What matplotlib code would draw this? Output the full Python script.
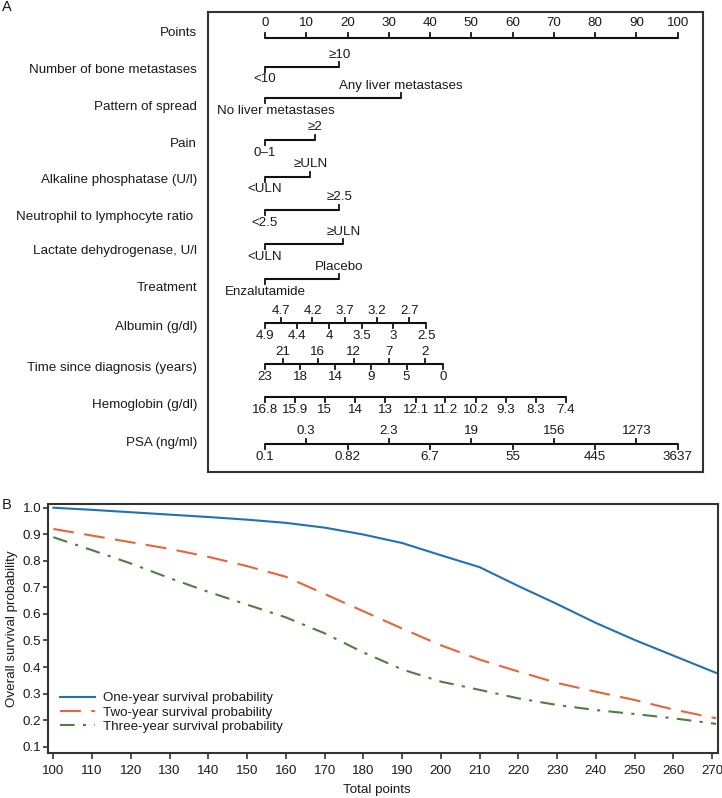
import matplotlib
matplotlib.use("Agg")
import matplotlib.pyplot as plt
from matplotlib.ticker import FormatStrFormatter

plt.rcParams['font.family'] = ['Liberation Sans', 'DejaVu Sans']

# ---------------- data: nomogram (panel A) ----------------
points_ticks = [0, 10, 20, 30, 40, 50, 60, 70, 80, 90, 100]

bone_labels = ["<10", "≥10"]
bone_points = [0, 18]
spread_labels = ["No liver metastases", "Any liver metastases"]
spread_points = [0, 33]
pain_labels = ["0–1", "≥2"]
pain_points = [0, 12]
alp_labels = ["<ULN", "≥ULN"]
alp_points = [0, 11]
nlr_labels = ["<2.5", "≥2.5"]
nlr_points = [0, 18]
ldh_labels = ["<ULN", "≥ULN"]
ldh_points = [0, 19]
treat_labels = ["Enzalutamide", "Placebo"]
treat_points = [0, 18]

albumin_labels = ["4.9", "4.7", "4.4", "4.2", "4", "3.7", "3.5", "3.2", "3", "2.7", "2.5"]
albumin_points = [0, 3.8, 7.7, 11.5, 15.5, 19.4, 23.4, 27.1, 31, 35, 39.1]
time_labels = ["23", "21", "18", "16", "14", "12", "9", "7", "5", "2", "0"]
time_points = [0, 4.3, 8.6, 12.8, 17.0, 21.5, 25.7, 30.0, 34.3, 38.7, 43.2]
hgb_labels = ["16.8", "15.9", "15", "14", "13", "12.1", "11.2", "10.2", "9.3", "8.3", "7.4"]
hgb_points = [0, 7.3, 14.5, 21.8, 29.1, 36.5, 43.7, 51.1, 58.4, 65.6, 72.9]
psa_labels = ["0.1", "0.3", "0.82", "2.3", "6.7", "19", "55", "156", "445", "1273", "3637"]
psa_points = [0, 10, 20, 30, 40, 50, 60, 70, 80, 90, 100]

row_names = ["Points", "Number of bone metastases", "Pattern of spread", "Pain",
             "Alkaline phosphatase (U/l)", "Neutrophil to lymphocyte ratio ",
             "Lactate dehydrogenase, U/l", "Treatment", "Albumin (g/dl)",
             "Time since diagnosis (years)", "Hemoglobin (g/dl)", "PSA (ng/ml)"]

# ---------------- data: survival curves (panel B) ----------------
total_points = [100, 110, 120, 130, 140, 150, 160, 170, 180, 190,
                200, 210, 220, 230, 240, 250, 260, 271]
surv_1yr = [1.0, 0.992, 0.983, 0.974, 0.965, 0.955, 0.943, 0.925, 0.899, 0.867,
            0.821, 0.776, 0.705, 0.637, 0.566, 0.502, 0.443, 0.378]
surv_2yr = [0.92, 0.895, 0.87, 0.845, 0.815, 0.78, 0.74, 0.675, 0.61, 0.545,
            0.482, 0.428, 0.383, 0.340, 0.307, 0.276, 0.240, 0.207]
surv_3yr = [0.889, 0.84, 0.79, 0.735, 0.683, 0.635, 0.587, 0.527, 0.455, 0.391,
            0.345, 0.314, 0.282, 0.257, 0.238, 0.223, 0.207, 0.186]
series_names = ["One-year survival probability", "Two-year survival probability",
                "Three-year survival probability"]

# ---------------- layout / style ----------------
W, H = 722, 798
FS = 9.6
TXT = "#1a1a1a"
EDGE = "#333333"
fig = plt.figure(figsize=(W / 100, H / 100), dpi=100)

# Panel A axes (pixel-like y coordinates, points on x)
boxL, boxR, boxT, boxB = 208, 703, 12, 472
p0_px, p100_px = 265, 677.7
scale = (p100_px - p0_px) / 100.0
axA = fig.add_axes([boxL / W, 1 - boxB / H, (boxR - boxL) / W, (boxB - boxT) / H])
axA.set_xlim((boxL - p0_px) / scale, (boxR - p0_px) / scale)
axA.set_ylim(boxB, boxT)
axA.set_xticks([])
axA.set_yticks([])
for s in axA.spines.values():
    s.set_color(EDGE)
    s.set_linewidth(1.5)

label_y = [33.3, 70, 107.3, 144, 180, 216.7, 251, 288.3, 326.7, 367.7, 405, 442.7]
line_y = [38.3, 67, 98.3, 140, 176.7, 210, 244.3, 279.3, 323.3, 364.3, 396.7, 444]
tick_len = 5
lab_off = 12.5
name_x = (197 - p0_px) / scale

rows = [
    (points_ticks, [str(v) for v in points_ticks], "points"),
    (bone_points, bone_labels, "binary"),
    (spread_points, spread_labels, "binary"),
    (pain_points, pain_labels, "binary"),
    (alp_points, alp_labels, "binary"),
    (nlr_points, nlr_labels, "binary"),
    (ldh_points, ldh_labels, "binary"),
    (treat_points, treat_labels, "binary"),
    (albumin_points, albumin_labels, "alt"),
    (time_points, time_labels, "alt"),
    (hgb_points, hgb_labels, "below"),
    (psa_points, psa_labels, "alt"),
]

lowtexts = []
for i, (pts, labs, kind) in enumerate(rows):
    ly = line_y[i]
    axA.text(name_x, label_y[i], row_names[i], ha="right", va="center",
             fontsize=FS, color=TXT, clip_on=False)
    axA.plot([min(pts), max(pts)], [ly, ly], color="#111111", lw=1.5,
             solid_capstyle="butt")
    for j, (p, lab) in enumerate(zip(pts, labs)):
        if kind == "points":
            side, off = -1, 15
        elif kind == "binary":
            side, off = (1 if j == 0 else -1), lab_off
        elif kind == "alt":
            side, off = (1 if j % 2 == 0 else -1), lab_off
        else:
            side, off = 1, 13.3
        axA.plot([p, p], [ly, ly + side * tick_len], color="#111111", lw=1.3)
        t = axA.text(p, ly + side * off, lab, ha="center", va="center",
                     fontsize=FS, color=TXT)
        lowtexts.append(t)

# keep labels inside the box
fig.canvas.draw()
rend = fig.canvas.get_renderer()
for t in lowtexts:
    bb = t.get_window_extent(rend)
    if bb.x0 < boxL + 8:
        shift_px = (boxL + 9) - bb.x0
        x, y = t.get_position()
        t.set_position((x + shift_px / scale, y))

fig.text(2 / W, 1 - 7 / H, "A", fontsize=10.5, color=TXT, ha="left", va="center")

# Panel B
bL, bR, bT, bB = 48.3, 718, 504, 752.7
axB = fig.add_axes([bL / W, 1 - bB / H, (bR - bL) / W, (bB - bT) / H])
axB.plot(total_points, surv_1yr, color="#2270b5", lw=1.5, label=series_names[0])
axB.plot(total_points, surv_2yr, color="#e8643a", lw=1.5, dashes=(10, 5),
         label=series_names[1])
axB.plot(total_points, surv_3yr, color="#4e7f3e", lw=1.5, dashes=(7, 4, 1.5, 4),
         label=series_names[2])
axB.set_xlim(98.7, 271.5)
axB.set_ylim(0.0774, 1.014)
axB.set_xticks(list(range(100, 271, 10)))
axB.set_yticks([0.1, 0.2, 0.3, 0.4, 0.5, 0.6, 0.7, 0.8, 0.9, 1.0])
axB.yaxis.set_major_formatter(FormatStrFormatter("%.1f"))
axB.tick_params(axis="x", direction="out", length=4, width=1.2, pad=5,
                labelsize=FS, colors=EDGE, labelcolor=TXT)
axB.tick_params(axis="y", direction="out", length=3.5, width=1.2, pad=1.5,
                labelsize=FS, colors=EDGE, labelcolor=TXT)
for s in axB.spines.values():
    s.set_color(EDGE)
    s.set_linewidth(1.5)
axB.set_xlabel("Total points", fontsize=FS, color=TXT, va="center")
axB.xaxis.set_label_coords((377 - bL) / (bR - bL), -(790 - bB) / (bB - bT))
axB.set_ylabel("Overall survival probability", fontsize=FS, color=TXT, va="center")
axB.yaxis.set_label_coords(-(bL - 12) / (bR - bL), 0.5)

leg = axB.legend(loc="lower left", frameon=False, fontsize=FS,
                 handlelength=2.6, handletextpad=0.6, labelspacing=0.15,
                 borderpad=0, borderaxespad=0,
                 bbox_to_anchor=((60 - bL) / (bR - bL), (bB - 733) / (bB - bT)))
for t in leg.get_texts():
    t.set_color(TXT)

fig.text(2 / W, 1 - 505 / H, "B", fontsize=10.5, color=TXT, ha="left", va="center")

fig.savefig("out.png", dpi=100)
